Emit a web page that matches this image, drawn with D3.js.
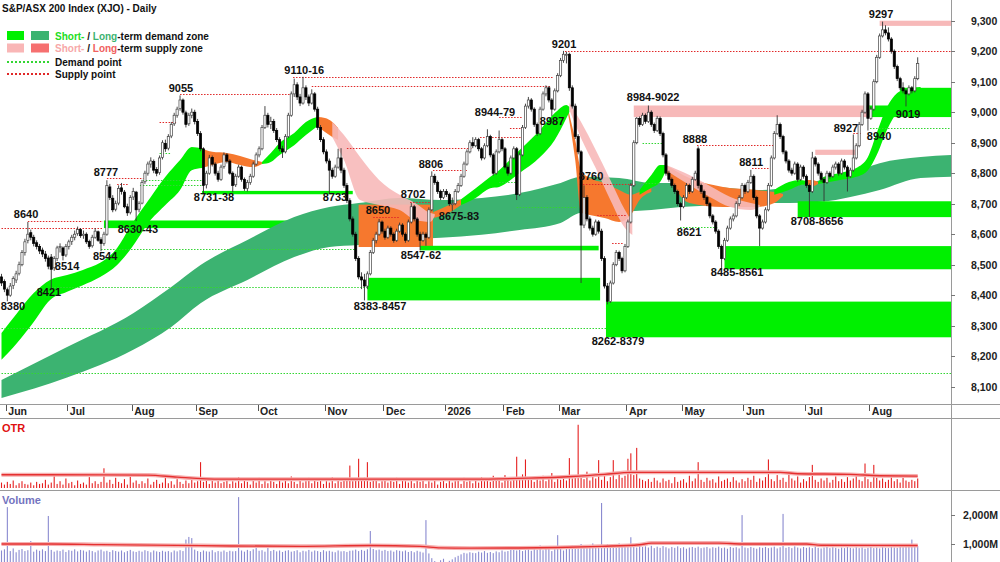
<!DOCTYPE html>
<html lang="en">
<head>
<meta charset="UTF-8">
<title>S&P/ASX 200 Index (XJO) - Daily</title>
<script src="https://d3js.org/d3.v7.min.js"></script>
<style>
  html, body { margin: 0; padding: 0; background: #fff; }
  svg { display: block; font-family: Arial, "Liberation Sans", sans-serif; }
  .lbl { font-size: 11px; font-weight: bold; fill: #111; text-anchor: middle; }
  .tick-lbl { font-size: 10.5px; font-weight: bold; fill: #222; }
  .legend { font-size: 10px; font-weight: bold; fill: #111; }
</style>
</head>
<body>
<div id="chart"></div>
<script>
// one row per trading day: open, high, low, close
const candles = [
  [8460,8470,8430,8440],[8445,8452,8410,8420],[8418,8425,8380,8400],[8400,8440,8395,8430],[8432,8462,8420,8455],
  [8450,8480,8440,8470],[8472,8510,8465,8500],[8500,8548,8495,8540],[8540,8585,8530,8575],[8580,8640,8570,8600],
  [8605,8615,8580,8590],[8590,8598,8560,8570],[8572,8580,8550,8560],[8560,8568,8535,8545],[8548,8556,8525,8535],
  [8535,8545,8510,8520],[8522,8530,8485,8495],[8525,8535,8421,8485],[8490,8528,8480,8520],[8520,8562,8512,8555],
  [8556,8570,8540,8560],[8555,8560,8514,8530],[8532,8568,8525,8560],[8560,8582,8550,8575],[8576,8598,8565,8590],
  [8590,8612,8580,8600],[8602,8625,8595,8615],[8615,8620,8588,8595],[8596,8612,8585,8600],[8600,8606,8568,8575],
  [8576,8582,8552,8560],[8562,8598,8556,8590],[8590,8620,8585,8610],[8608,8612,8575,8580],[8582,8590,8544,8570],
  [8570,8608,8562,8600],[8600,8777,8595,8760],[8755,8765,8712,8720],[8718,8728,8672,8680],[8682,8710,8675,8700],
  [8702,8760,8695,8750],[8752,8768,8730,8740],[8738,8745,8685,8690],[8690,8700,8660,8670],[8672,8728,8665,8720],
  [8722,8752,8712,8740],[8738,8742,8643,8680],[8682,8708,8672,8700],[8702,8778,8698,8770],[8772,8808,8765,8800],
  [8800,8838,8792,8830],[8830,8852,8818,8840],[8838,8845,8800,8810],[8812,8820,8790,8800],[8802,8858,8795,8850],
  [8852,8908,8845,8900],[8898,8910,8870,8880],[8882,8928,8875,8920],[8922,8968,8915,8960],[8962,8998,8955,8990],
  [8990,9018,8982,9010],[9012,9055,9005,9040],[9040,9045,8992,9000],[8998,9005,8950,8960],[8962,8998,8955,8990],
  [8990,9012,8980,9000],[9000,9008,8960,8970],[8970,8978,8922,8930],[8930,8938,8872,8880],[8880,8885,8731,8760],
  [8762,8808,8750,8800],[8800,8860,8795,8850],[8852,8858,8822,8830],[8830,8836,8792,8800],[8800,8808,8772,8780],
  [8780,8828,8775,8820],[8822,8868,8815,8860],[8860,8866,8832,8840],[8840,8846,8795,8800],[8800,8806,8738,8760],
  [8762,8798,8755,8790],[8790,8828,8785,8820],[8820,8825,8772,8780],[8780,8786,8742,8750],[8750,8778,8740,8770],
  [8770,8798,8762,8790],[8790,8838,8785,8830],[8830,8868,8825,8860],[8860,8888,8852,8880],[8880,8958,8875,8950],
  [8950,9020,8945,8990],[8990,8998,8950,8960],[8960,8985,8945,8970],[8970,8978,8932,8940],[8940,8948,8902,8910],
  [8910,8918,8872,8880],[8880,8890,8850,8870],[8870,8928,8865,8920],[8920,8998,8915,8990],[8990,9068,8985,9060],
  [9060,9110,9050,9090],[9090,9098,9040,9050],[9050,9060,9020,9030],[9030,9116,9025,9080],[9080,9088,9040,9050],
  [9050,9058,9020,9030],[9030,9075,9025,9060],[9060,9066,9002,9010],[9010,9018,8942,8950],[8950,8958,8902,8910],
  [8910,8918,8862,8870],[8870,8878,8832,8840],[8840,8848,8733,8810],[8810,8818,8782,8790],[8790,8828,8785,8820],
  [8820,8880,8815,8850],[8850,8882,8800,8810],[8810,8818,8752,8760],[8760,8768,8702,8710],[8710,8718,8642,8650],
  [8650,8658,8592,8600],[8600,8608,8512,8520],[8520,8528,8452,8460],[8460,8475,8420,8450],[8450,8470,8383,8430],
  [8430,8478,8420,8470],[8470,8548,8465,8540],[8540,8588,8535,8580],[8580,8608,8570,8600],[8600,8650,8595,8640],
  [8640,8645,8602,8610],[8610,8618,8582,8590],[8590,8628,8585,8620],[8620,8626,8592,8600],[8600,8606,8572,8580],
  [8580,8618,8575,8610],[8610,8638,8605,8630],[8630,8636,8592,8600],[8600,8606,8572,8580],[8580,8648,8575,8640],
  [8640,8702,8635,8690],[8690,8696,8642,8650],[8650,8656,8592,8600],[8600,8608,8547,8580],[8580,8608,8575,8600],
  [8600,8606,8562,8590],[8590,8688,8585,8680],[8680,8806,8675,8790],[8790,8798,8762,8770],[8770,8776,8732,8740],
  [8740,8746,8712,8720],[8720,8748,8715,8740],[8740,8748,8722,8730],[8730,8736,8692,8700],[8700,8720,8675,8700],
  [8700,8748,8695,8740],[8740,8768,8735,8760],[8760,8798,8755,8790],[8790,8838,8785,8830],[8830,8878,8825,8870],
  [8870,8908,8865,8900],[8900,8918,8882,8890],[8890,8918,8885,8910],[8910,8916,8872,8880],[8880,8886,8842,8850],
  [8850,8898,8845,8890],[8890,8944,8885,8920],[8920,8926,8852,8860],[8860,8866,8792,8800],[8800,8878,8795,8870],
  [8870,8940,8865,8910],[8910,8916,8872,8880],[8880,8886,8812,8820],[8820,8828,8792,8800],[8800,8858,8795,8850],
  [8850,8888,8845,8880],[8880,8886,8712,8730],[8730,8868,8725,8860],[8860,8958,8855,8950],[8950,9028,8945,9020],
  [9020,9050,9012,9040],[9040,9046,9002,9010],[9010,9016,8952,8960],[8960,8966,8922,8930],[8930,9018,8925,9010],
  [9010,9068,9005,9060],[9060,9088,9052,9080],[9080,9086,9032,9040],[9040,9046,8987,9010],[9010,9078,9005,9070],
  [9070,9128,9065,9120],[9120,9178,9115,9170],[9170,9201,9162,9190],[9190,9198,9160,9190],[9190,9195,9070,9080],
  [9080,9088,9012,9020],[9020,9028,8912,8920],[8920,8928,8862,8870],[8870,8875,8440,8630],[8630,8760,8620,8720],
  [8720,8728,8642,8650],[8650,8658,8612,8620],[8620,8628,8592,8600],[8600,8648,8595,8640],[8640,8646,8602,8610],
  [8610,8618,8512,8520],[8520,8528,8422,8430],[8430,8440,8370,8380],[8380,8448,8375,8440],[8440,8508,8435,8500],
  [8500,8548,8495,8540],[8540,8546,8512,8520],[8520,8526,8472,8480],[8480,8568,8475,8560],[8560,8648,8555,8640],
  [8640,8768,8635,8760],[8760,8908,8755,8900],[8900,8984,8895,8980],[8980,8986,8952,8960],[8960,8998,8955,8990],
  [8990,8996,8962,8970],[8970,9022,8965,9000],[9000,9006,8952,8960],[8960,8966,8932,8940],[8940,8988,8935,8980],
  [8980,8986,8922,8930],[8930,8936,8852,8860],[8860,8866,8792,8800],[8800,8808,8772,8780],[8780,8786,8752,8760],
  [8760,8766,8732,8740],[8740,8746,8692,8700],[8700,8706,8645,8690],[8690,8728,8685,8720],[8720,8768,8715,8760],
  [8760,8766,8732,8740],[8740,8788,8735,8780],[8780,8808,8775,8800],[8880,8888,8750,8760],[8760,8766,8732,8740],
  [8740,8746,8712,8720],[8720,8726,8692,8700],[8700,8706,8652,8660],[8660,8666,8632,8640],[8640,8646,8602,8610],
  [8610,8616,8552,8560],[8560,8566,8485,8520],[8520,8588,8515,8580],[8580,8628,8575,8620],[8620,8658,8615,8650],
  [8650,8668,8642,8660],[8660,8708,8655,8700],[8700,8728,8692,8720],[8720,8768,8715,8760],[8760,8766,8732,8740],
  [8740,8778,8735,8770],[8770,8811,8765,8790],[8790,8796,8712,8720],[8720,8726,8652,8660],[8660,8666,8561,8620],
  [8620,8648,8615,8640],[8640,8688,8635,8680],[8680,8768,8675,8760],[8760,8858,8755,8850],[8850,8938,8845,8930],
  [8930,8990,8925,8960],[8960,8966,8912,8920],[8920,8926,8862,8870],[8870,8876,8832,8840],[8840,8846,8802,8810],
  [8810,8818,8792,8800],[8800,8838,8795,8830],[8830,8836,8772,8780],[8780,8828,8775,8820],[8820,8826,8782,8790],
  [8790,8796,8752,8760],[8760,8766,8656,8740],[8740,8870,8735,8850],[8850,8856,8822,8830],[8830,8836,8792,8800],
  [8800,8806,8772,8780],[8780,8786,8708,8770],[8770,8808,8765,8800],[8800,8806,8782,8790],[8790,8828,8785,8820],
  [8820,8838,8812,8830],[8830,8836,8792,8800],[8800,8848,8795,8840],[8840,8846,8812,8820],[8820,8826,8740,8790],
  [8790,8818,8785,8810],[8810,8927,8805,8850],[8850,8898,8845,8890],[8890,8968,8885,8960],[8960,9008,8955,9000],
  [9000,9068,8995,9060],[9060,9066,8940,8980],[8980,9018,8975,9010],[9010,9108,9005,9100],[9100,9188,9095,9180],
  [9180,9258,9175,9250],[9250,9297,9245,9270],[9270,9285,9252,9260],[9260,9278,9232,9240],[9240,9246,9192,9200],
  [9200,9206,9142,9150],[9150,9156,9102,9110],[9110,9116,9072,9080],[9080,9098,9062,9070],[9070,9076,9019,9060],
  [9060,9088,9055,9080],[9080,9086,9062,9070],[9070,9118,9065,9110],[9110,9180,9105,9160]
];

const otr = [
  8,5,9,6,11,4,7,10,6,5,8,4,9,6,7,12,5,8,19,6,
  10,5,14,7,9,4,11,6,8,5,16,7,10,6,9,29,8,12,6,15,
  9,7,13,5,17,8,11,6,10,7,14,5,9,12,6,8,18,7,10,5,
  13,9,6,11,7,15,8,10,38,9,12,6,11,8,14,7,9,13,6,10,
  8,16,7,11,9,5,12,8,15,6,10,7,13,9,6,14,8,11,7,17,
  9,6,12,8,10,15,7,11,9,13,6,10,8,16,7,12,9,11,14,33,
  10,13,43,12,15,38,9,11,14,7,10,13,8,12,9,15,6,11,10,8,
  13,7,11,9,14,6,10,8,12,5,9,11,7,13,8,10,12,6,15,9,
  11,7,13,8,16,10,12,9,18,11,14,8,19,12,10,15,46,13,20,42,
  12,16,9,14,11,18,10,13,22,9,15,12,17,11,44,14,19,93,16,13,
  24,11,18,14,41,12,20,10,16,41,13,22,15,18,43,51,19,59,14,12,
  10,13,9,15,11,8,14,10,12,7,16,9,11,13,8,18,10,14,38,12,
  9,15,11,13,8,17,10,12,14,9,16,11,8,13,10,15,12,18,9,14,
  11,16,42,13,10,19,12,15,9,20,14,11,17,8,13,10,16,34,12,9,
  14,11,15,8,12,17,10,13,9,16,11,14,18,12,10,36,13,9,34,15,
  11,14,9,12,16,10,13,8,15,11,9,12,10,14
];

// daily volume, millions
const volume = [
  780,820,2250,760,850,720,800,830,760,790,1100,740,810,770,820,760,1950,800,740,780,
  760,810,730,790,770,820,750,800,780,740,790,760,720,780,810,750,770,730,790,760,
  740,780,720,760,800,750,730,770,740,790,760,720,780,750,730,770,740,760,720,780,
  750,790,760,1150,1240,1200,810,760,730,780,750,740,790,720,760,740,780,730,770,750,
  760,2590,780,740,800,760,820,1000,770,790,740,980,760,800,750,780,730,770,790,740,
  760,790,720,770,750,800,740,780,760,730,790,750,770,740,720,780,750,760,730,770,
  780,810,760,800,770,820,1440,830,790,810,770,800,760,780,740,790,770,750,780,730,
  760,720,770,740,710,1810,680,520,420,380,450,500,360,430,480,550,600,650,700,680,
  720,700,690,740,710,760,700,730,690,750,720,780,740,760,800,850,780,820,760,790,
  830,770,880,800,950,790,840,880,760,820,1300,860,780,900,830,960,870,910,1000,880,
  940,890,1020,900,960,2390,950,1000,910,970,880,1020,940,990,900,1230,960,880,950,900,
  920,880,940,860,910,870,930,890,850,900,870,920,860,890,840,880,900,870,910,860,
  880,900,850,890,870,910,860,880,840,900,870,890,850,1980,880,860,900,870,840,890,
  870,900,860,880,910,850,890,2020,870,900,860,920,880,850,900,870,890,860,910,870,
  850,880,900,860,890,870,840,880,860,900,870,850,890,860,880,840,870,900,860,880,
  850,890,870,860,900,880,870,910,890,940,1000,1150,960,930
];

// averages: [day, value]
const otrAvg = [[0,19.5],[15,19.5],[50,19],[60,16],[75,13],[160,13],[180,14.5],[195,17],[206,20],[215,23],[266,23],[272,21],[290,20],[300,18],[313,17.5]];
const volAvg = [[0,1000],[17,1000],[34,980],[68,945],[102,920],[126,950],[143,920],[150,870],[160,860],[175,865],[190,880],[205,920],[218,975],[222,1030],[245,1030],[253,1000],[275,1000],[280,960],[313,950]];

// x-axis: month labels and the day they start
const months = ["Jun","Jul","Aug","Sep","Oct","Nov","Dec","2026","Feb","Mar","Apr","May","Jun","Jul","Aug"];
const monthStart = [2,23,45,67,88,111,131,152,172,191,214,233,254,275,297];
const priceTicks = [9300,9200,9100,9000,8900,8800,8700,8600,8500,8400,8300,8200,8100];
const volTicks = [2000,1000];

// long-term band: [day, upper, lower]
const longBand = [[0,8122,8063],[22.4,8230,8130],[45,8341,8221],[58,8427,8296],[68,8499,8374],[84,8581,8450],[100,8656,8525],[112,8689,8558],[122,8702,8565],[136,8719,8581],[150,8712,8588],[164,8719,8598],[177,8735,8614],[191,8768,8637],[198,8788,8670],[211,8784,8673],[222,8768,8679],[232,8768,8689],[245,8755,8696],[259,8745,8702],[269,8755,8702],[280,8778,8706],[290,8801,8722],[300,8833,8745],[314,8853,8784],[324.4,8860,8788]];

// short-term ribbon pieces: [day, upper, lower]
const stDemandA = [[0,8276,8188],[5.3,8341,8243],[11,8407,8312],[16.6,8450,8384],[22.4,8466,8411],[27.8,8483,8433],[33.7,8506,8460],[39.5,8555,8499],[43.9,8624,8548],[51,8722,8647],[56,8788,8696],[61,8843,8745],[65,8886,8810],[68.5,8882,8817]];
const stDemandB = [[89,8837,8830],[92,8866,8837],[95,8899,8860],[100,8932,8892],[104,8968,8925],[108,8984,8955]];
const stDemandC = [[157,8715,8696],[162,8751,8719],[167,8788,8751],[170,8810,8755],[177,8876,8801],[184,8942,8853],[189,8997,8909],[193,9024,8981],[194,9017,9001]];
const stDemandD = [[218,8745,8729],[222,8794,8752],[225,8827,8771],[227,8827,8810]];
const stDemandE = [[264,8745,8729],[269,8771,8745],[273,8778,8761],[275.5,8774,8765]];
const stDemandF = [[279,8771,8765],[281,8788,8768],[286.5,8801,8778],[292,8817,8788],[296,8853,8810],[299,8932,8860],[302.5,9017,8942],[306,9063,9001],[309,9076,9027],[314,9083,9040]];
const stSupplyA = [[68.5,8882,8817],[72,8870,8827],[77,8866,8837],[81.5,8856,8827],[86,8843,8820],[89,8837,8830]];
const stSupplyB = [[108,8984,8955],[110.5,8981,8935],[113,8968,8919],[115,8948,8909]];
const stSupplyC = [[147.5,8673,8653],[152,8692,8666],[157,8715,8696]];
const stSupplyD = [[193.2,9024,9014],[196,8909,8843],[198,8810,8670],[201,8784,8663],[206,8768,8653],[211,8745,8640],[215,8729,8663],[218,8738,8712],[222,8751,8738]];
const stSupplyE = [[227,8827,8804],[235,8784,8702],[246.5,8755,8689],[258,8745,8689],[264,8738,8702],[267,8732,8725]];
const stSupplyF = [[275,8778,8765],[277,8778,8758],[279,8771,8765]];
const stFadeA = [[113,8968,8919],[117,8925,8843],[122.5,8853,8712],[129,8778,8696],[136,8729,8679],[141.3,8702,8647],[146.4,8670,8640],[148,8666,8660]];
const stFadeB = [[194,9030,9007],[198,8968,8915],[203,8876,8817],[208,8778,8712],[213,8679,8620],[215.5,8640,8597]];
const stFadeC = [[227,8827,8810],[235,8794,8761],[242,8758,8722],[249,8722,8689],[256,8702,8679],[259,8696,8689]];

// zones: [from day, to day, upper, lower]
const demandZones = [[68.5,120,8742,8731],[125,204.5,8457,8383],[143,204,8562,8547],[206.5,324.4,8379,8262],[247,324.4,8561,8485],[272,324.4,8708,8656],[296,324.4,9022,8984],[307,324.4,9080,8990]];
const earlyDemandZones = [[35,121,8645,8620]];
const supplyZones = [[216,296.5,9022,8984],[300,324.4,9300,9283],[278,292.5,8877,8860]];
const ltSupplyZones = [[122,147.4,8697,8558]];

// dotted pivot lines: [from day, to day, level]
const supplyPoints = [[0,34.7,8620],[9,34.7,8643],[36,48.5,8784],[39.5,43.2,8765],[54,60,8968],[61,98.5,9060],[99.6,188.4,9115],[106,187.4,9086],[118,161,8882],[147.4,159,8810],[139.6,146.4,8706],[127,136,8656],[170,178,8984],[163.5,178,8919],[173.7,178,8948],[192.5,324.4,9202],[197.6,217,8764],[203.5,213.7,8663],[208.6,212.3,8571],[237.6,263.6,8892],[256.4,262.6,8817],[291,294,8932]];
const demandPoints = [[0,207,8293],[0,324.4,8145],[17,125,8427],[34,121,8551],[48.3,69,8778],[47.3,69,8761],[54,58,8866],[176,196.6,8689],[170,176,8771],[219,226,8899],[218,225,8768],[231.8,244.5,8624],[296.7,324.4,8948]];

// pivot labels: [text, day, level]
const pivotLabels = [
  ["9297",300.5,9322],["9201",192.2,9224],["9110-16",103.4,9139],["9055",61.3,9079],["8984-9022",222.6,9050],
  ["8944-79",168.6,9000],["8987",188.1,8971],["8888",236.9,8912],["8811",256.1,8837],["8927",288.5,8948],
  ["8940",299.8,8922],["9019",309.7,8994],["8708-8656",278.6,8644],["8621",234.9,8608],["8485-8561",251.3,8476],
  ["8806",146.7,8830],["8702",140.6,8732],["8650",128.6,8680],["8675-83",156.3,8660],["8547-62",143.3,8532],
  ["8383-8457",129.3,8364],["8733",113.9,8722],["8731-38",72.6,8722],["8630-43",46.6,8617],["8777",35.7,8804],
  ["8640",8.4,8666],["8544",35.4,8528],["8514",22.4,8496],["8421",16.2,8411],["8380",3.9,8365],
  ["8760",201.4,8791],["8262-8379",210.6,8250]
];

const width = 1000, height = 562;
const axisX = 951;
const colors = {
  demand: "#00f000", ltDemand: "#3cb371", fade: "#f7b9b9", ltSupply: "#f6782e",
  supplyDot: "#e02828", demandDot: "#33d633", candleUp: "#ffffff", candleDown: "#000000",
  otr: "#e52020", vol: "#8a8ad0", avg: "#e53030", avgGlow: "#f6b0b0", frame: "#9a9a9a"
};

const x = d3.scaleLinear().domain([0, 313]).range([1.5, 917.7]);
const y = d3.scaleLinear().domain([8100, 9300]).range([386.7, 20.7]);
const yOtr = d3.scaleLinear().domain([0, 100]).range([488, 420]);
const yVol = d3.scaleLinear().domain([0, 2000]).range([573.5, 514.5]);

const svg = d3.select("#chart").append("svg")
  .attr("width", width).attr("height", height);

svg.append("rect").attr("width", width).attr("height", height).attr("fill", "#fff");

const defs = svg.append("defs");
[["clipPrice", 0, 0, axisX, 404], ["clipOtr", 0, 419, axisX, 71], ["clipVol", 0, 491, axisX, 71]]
  .forEach(([id, cx, cy, cw, ch]) => {
    defs.append("clipPath").attr("id", id).append("rect")
      .attr("x", cx).attr("y", cy).attr("width", cw).attr("height", ch);
  });

const price = svg.append("g").attr("clip-path", "url(#clipPrice)");

function zoneRects(g, data, fill) {
  g.append("g").selectAll("rect").data(data).join("rect")
    .attr("x", d => x(d[0]))
    .attr("width", d => x(d[1]) - x(d[0]))
    .attr("y", d => y(d[2]))
    .attr("height", d => Math.max(1, y(d[3]) - y(d[2])))
    .attr("fill", fill);
}

const band = d3.area()
  .x(d => x(d[0]))
  .y0(d => y(d[2]))
  .y1(d => y(d[1]))
  .curve(d3.curveMonotoneX);

// zone that sits under the long-term band
zoneRects(price, earlyDemandZones, colors.demand);

price.append("path").datum(longBand).attr("d", band).attr("fill", colors.ltDemand);

[stSupplyA, stSupplyB, stSupplyC, stSupplyD, stSupplyE, stSupplyF].forEach(seg =>
  price.append("path").datum(seg).attr("d", band).attr("fill", colors.ltSupply));
[stDemandA, stDemandB, stDemandC, stDemandD, stDemandE, stDemandF].forEach(seg =>
  price.append("path").datum(seg).attr("d", band).attr("fill", colors.demand));

zoneRects(price, ltSupplyZones, colors.ltSupply);

[stFadeA, stFadeB, stFadeC].forEach(seg =>
  price.append("path").datum(seg).attr("d", band).attr("fill", colors.fade).attr("opacity", 0.9));

zoneRects(price, demandZones, colors.demand);
zoneRects(price, supplyZones, colors.fade);

function dotted(data, stroke) {
  price.append("g").selectAll("line").data(data).join("line")
    .attr("x1", d => x(d[0])).attr("x2", d => x(d[1]))
    .attr("y1", d => Math.round(y(d[2])) + 0.5).attr("y2", d => Math.round(y(d[2])) + 0.5)
    .attr("stroke", stroke).attr("stroke-width", 1).attr("stroke-dasharray", "1.5,1.5");
}
dotted(supplyPoints, colors.supplyDot);
dotted(demandPoints, colors.demandDot);

// candles
const bodyW = 2.2;
const cg = price.append("g");
cg.selectAll("line").data(candles).join("line")
  .attr("x1", (d, i) => x(i)).attr("x2", (d, i) => x(i))
  .attr("y1", d => y(d[1])).attr("y2", d => y(d[2]))
  .attr("stroke", "#333").attr("stroke-width", 0.9);
cg.selectAll("rect").data(candles).join("rect")
  .attr("x", (d, i) => x(i) - bodyW / 2)
  .attr("width", bodyW)
  .attr("y", d => y(Math.max(d[0], d[3])))
  .attr("height", d => Math.max(1, Math.abs(y(d[0]) - y(d[3]))))
  .attr("fill", d => d[3] >= d[0] ? colors.candleUp : colors.candleDown)
  .attr("stroke", d => d[3] >= d[0] ? "#444" : "#000")
  .attr("stroke-width", 0.7);

// pivot labels
svg.append("g").selectAll("text").data(pivotLabels).join("text")
  .attr("class", "lbl")
  .attr("x", d => x(d[1]))
  .attr("y", d => y(d[2]) + 4)
  .text(d => d[0]);

// frame
const frame = svg.append("g").attr("stroke", colors.frame).attr("stroke-width", 1);
frame.append("line").attr("x1", axisX + 0.5).attr("x2", axisX + 0.5).attr("y1", 0).attr("y2", height);
[404.5, 418.5, 490.5].forEach(v =>
  frame.append("line").attr("x1", 0).attr("x2", width).attr("y1", v).attr("y2", v));

// right price axis
const yAxis = svg.append("g");
yAxis.selectAll("line").data(priceTicks).join("line")
  .attr("x1", axisX).attr("x2", axisX + 4)
  .attr("y1", d => Math.round(y(d)) + 0.5).attr("y2", d => Math.round(y(d)) + 0.5)
  .attr("stroke", "#777");
yAxis.selectAll("text").data(priceTicks).join("text")
  .attr("class", "tick-lbl")
  .attr("x", 971).attr("y", d => y(d) + 4)
  .text(d => d3.format(",")(d));

// month axis
const xAxis = svg.append("g");
xAxis.selectAll("line").data(monthStart).join("line")
  .attr("x1", d => Math.round(x(d) - 1.5) + 0.5).attr("x2", d => Math.round(x(d) - 1.5) + 0.5)
  .attr("y1", 405).attr("y2", 411)
  .attr("stroke", "#555");
xAxis.selectAll("text").data(months).join("text")
  .attr("class", "tick-lbl")
  .attr("x", (d, i) => x(monthStart[i]) + 1)
  .attr("y", 415)
  .text(d => d);

// OTR panel
const otrG = svg.append("g").attr("clip-path", "url(#clipOtr)");
otrG.selectAll("rect").data(otr).join("rect")
  .attr("x", (d, i) => x(i) - 0.55).attr("width", 1.1)
  .attr("y", d => yOtr(d)).attr("height", d => yOtr(0) - yOtr(d))
  .attr("fill", colors.otr);
const avgLine = (ys) => d3.line().x(d => x(d[0])).y(d => ys(d[1])).curve(d3.curveMonotoneX);
otrG.append("path").datum(otrAvg).attr("d", avgLine(yOtr))
  .attr("fill", "none").attr("stroke", colors.avgGlow).attr("stroke-width", 4);
otrG.append("path").datum(otrAvg).attr("d", avgLine(yOtr))
  .attr("fill", "none").attr("stroke", colors.avg).attr("stroke-width", 1.4);
svg.append("text").attr("x", 2).attr("y", 432)
  .attr("font-size", 11).attr("font-weight", "bold").attr("fill", "#e01010").text("OTR");

// volume panel
const volG = svg.append("g").attr("clip-path", "url(#clipVol)");
volG.selectAll("rect").data(volume).join("rect")
  .attr("x", (d, i) => x(i) - 0.55).attr("width", 1.1)
  .attr("y", d => yVol(d)).attr("height", d => yVol(0) - yVol(d))
  .attr("fill", colors.vol);
volG.append("path").datum(volAvg).attr("d", avgLine(yVol))
  .attr("fill", "none").attr("stroke", colors.avgGlow).attr("stroke-width", 4);
volG.append("path").datum(volAvg).attr("d", avgLine(yVol))
  .attr("fill", "none").attr("stroke", colors.avg).attr("stroke-width", 1.4);
svg.append("text").attr("x", 2).attr("y", 504)
  .attr("font-size", 11).attr("font-weight", "bold").attr("fill", "#7474c0").text("Volume");

const vAxis = svg.append("g");
vAxis.selectAll("line").data(volTicks).join("line")
  .attr("x1", axisX).attr("x2", axisX + 4)
  .attr("y1", d => Math.round(yVol(d)) + 0.5).attr("y2", d => Math.round(yVol(d)) + 0.5)
  .attr("stroke", "#777");
vAxis.selectAll("text").data(volTicks).join("text")
  .attr("class", "tick-lbl")
  .attr("x", 963).attr("y", d => yVol(d) + 4)
  .text(d => d3.format(",")(d) + "M");

// title and legend
svg.append("text").attr("x", 2).attr("y", 12)
  .attr("font-size", 10).attr("font-weight", "bold").attr("fill", "#111")
  .text("S&P/ASX 200 Index (XJO) - Daily");

const legendRows = [
  { a: "#00f000", b: "#3cb371", sCol: "#22dd22", lCol: "#3cb371", rest: "-term demand zone" },
  { a: "#f9b6b6", b: "#f67070", sCol: "#f7a8a8", lCol: "#f06060", rest: "-term supply zone" }
];
const lg = svg.append("g");
legendRows.forEach((r, k) => {
  const ly = 31 + k * 12.5;
  lg.append("rect").attr("x", 7).attr("y", ly).attr("width", 17).attr("height", 9).attr("fill", r.a);
  lg.append("rect").attr("x", 31).attr("y", ly).attr("width", 18).attr("height", 9).attr("fill", r.b);
  const t = lg.append("text").attr("class", "legend").attr("x", 55).attr("y", ly + 8.5);
  t.append("tspan").attr("fill", r.sCol).text("Short-");
  t.append("tspan").text(" / ");
  t.append("tspan").attr("fill", r.lCol).text("Long");
  t.append("tspan").text(r.rest);
});
[["Demand point", colors.demandDot, 62], ["Supply point", colors.supplyDot, 74]].forEach(([name, c, ly]) => {
  lg.append("line").attr("x1", 7).attr("x2", 49).attr("y1", ly).attr("y2", ly)
    .attr("stroke", c).attr("stroke-width", 2).attr("stroke-dasharray", "2,2");
  lg.append("text").attr("class", "legend").attr("x", 55).attr("y", ly + 4).text(name);
});
</script>
</body>
</html>
